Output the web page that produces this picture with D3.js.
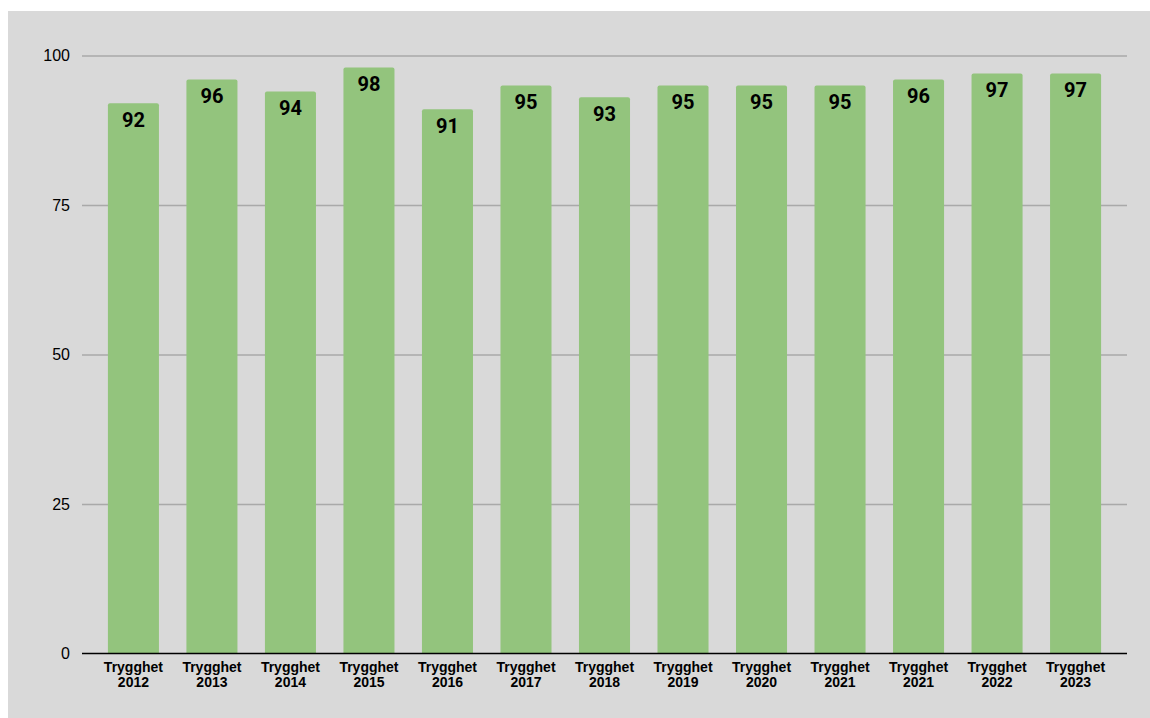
<!DOCTYPE html>
<html>
<head>
<meta charset="utf-8">
<script src="https://cdn.jsdelivr.net/npm/d3@7"></script>
<style>
  html, body { margin: 0; padding: 0; background: #ffffff; }
  svg { display: block; }
</style>
</head>
<body>
<svg id="chart" width="1150" height="718"></svg>
<script>
const categories = ["Trygghet 2012", "Trygghet 2013", "Trygghet 2014", "Trygghet 2015", "Trygghet 2016", "Trygghet 2017", "Trygghet 2018", "Trygghet 2019", "Trygghet 2020", "Trygghet 2021", "Trygghet 2021", "Trygghet 2022", "Trygghet 2023"];
const values = [92, 96, 94, 98, 91, 95, 93, 95, 95, 95, 96, 97, 97];
const yTicks = [0, 25, 50, 75, 100];

(function () {
const svg = d3.select("#chart");
const W = 1150, H = 718;

svg.append("rect").attr("x", 8).attr("y", 11).attr("width", W - 8).attr("height", H - 11).attr("fill", "#d9d9d9");

const mLeft = 82, mRight = 1127, mTop = 55.5, mBottom = 653.5;

const idx = categories.map((d, i) => i);
const x = d3.scaleBand().domain(idx).range([mLeft, mRight]).paddingInner(0.35).paddingOuter(0.33);
const y = d3.scaleLinear().domain([0, 100]).range([mBottom, mTop]);

// gridlines
const yAxis = d3.axisLeft(y).tickValues(yTicks).tickSize(-(mRight - mLeft)).tickPadding(12);
const gy = svg.append("g").attr("transform", `translate(${mLeft},0)`).call(yAxis);
gy.select(".domain").remove();
gy.selectAll(".tick line").attr("stroke", "#a9a9a9").attr("stroke-width", 1.5)
  .attr("display", d => d === 0 ? "none" : null);
gy.selectAll(".tick text").attr("font-family", "Liberation Sans, Arial, sans-serif")
  .attr("font-size", 16).attr("fill", "#000");

// bars
svg.append("g").selectAll("path").data(values).join("path")
  .attr("fill", "#93c47d")
  .attr("d", (d, i) => {
    const x0 = x(i), w = x.bandwidth(), y0 = y(d), yb = y(0), r = 2;
    return `M${x0},${yb}V${y0 + r}Q${x0},${y0} ${x0 + r},${y0}H${x0 + w - r}Q${x0 + w},${y0} ${x0 + w},${y0 + r}V${yb}Z`;
  });

// value labels
svg.append("g").selectAll("text").data(values).join("text")
  .attr("x", (d, i) => x(i) + x.bandwidth() / 2)
  .attr("y", d => y(d) + 24)
  .attr("text-anchor", "middle")
  .attr("font-family", "Roboto, Liberation Sans, sans-serif")
  .attr("font-weight", "bold")
  .attr("font-size", 20)
  .attr("fill", "#000")
  .text(d => d);

// baseline
const xAxis = d3.axisBottom(x).tickSize(0).tickFormat("");
const gx = svg.append("g").attr("transform", `translate(0,${y(0)})`).call(xAxis);
gx.select(".domain").attr("stroke", "#000").attr("stroke-width", 1.5).attr("d", `M${mLeft},0H${mRight}`);

// category labels
const lbl = svg.append("g").selectAll("text").data(categories).join("text")
  .attr("x", (d, i) => x(i) + x.bandwidth() / 2)
  .attr("y", 672)
  .attr("text-anchor", "middle")
  .attr("font-family", "Liberation Sans, Arial, sans-serif")
  .attr("font-weight", "bold")
  .attr("font-size", 14)
  .attr("fill", "#000");
lbl.each(function(d, i) {
  const parts = d.split(" ");
  const t = d3.select(this);
  t.append("tspan").attr("x", x(i) + x.bandwidth() / 2).attr("dy", 0).text(parts[0]);
  t.append("tspan").attr("x", x(i) + x.bandwidth() / 2).attr("dy", 15).text(parts[1]);
});
})();
</script>
</body>
</html>
